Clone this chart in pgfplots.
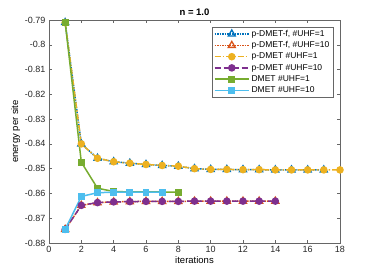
\documentclass[border=0pt]{standalone}
\usepackage{pgfplots}
\pgfplotsset{compat=1.18}
\usepackage{fontspec}
\setmainfont{Liberation Sans}
\definecolor{mblue}{rgb}{0,0.447,0.741}
\definecolor{morange}{rgb}{0.85,0.325,0.098}
\definecolor{myellow}{rgb}{0.929,0.694,0.125}
\definecolor{mpurple}{rgb}{0.494,0.184,0.556}
\definecolor{mgreen}{rgb}{0.466,0.674,0.188}
\definecolor{mcyan}{rgb}{0.301,0.745,0.933}
\begin{document}
\begin{tikzpicture}
\path[use as bounding box] (-49pt,-31pt) rectangle (327pt,243pt);
\begin{axis}[
  at={(0pt,0pt)}, anchor=south west,
  scale only axis, width=291pt, height=223pt,
  xmin=0, xmax=18, ymin=-0.88, ymax=-0.79,
  xtick={0,2,...,18},
  ytick={-0.88,-0.87,-0.86,-0.85,-0.84,-0.83,-0.82,-0.81,-0.8,-0.79},
  /pgf/number format/assume math mode=true,
  yticklabel style={/pgf/number format/fixed,/pgf/number format/precision=2},
  tick label style={font=\fontsize{9}{11}\selectfont, color=black!85},
  tick align=inside, major tick length=3pt,
  axis line style={black!60, line width=0.5pt},
  every tick/.style={black!60},
  xlabel={iterations}, ylabel={energy per site},
  label style={font=\fontsize{9.5}{11}\selectfont},
  xlabel style={yshift=3pt},
  ylabel style={yshift=-2pt},
  title={\textbf{n = 1.0}},
  title style={font=\fontsize{9.5}{11}\selectfont, yshift=-5pt},
  legend cell align=left,
  legend style={at={(0.976,0.969)}, anchor=north east, font=\fontsize{8.5}{10}\selectfont,
    draw=black!60, line width=0.4pt, inner sep=1.5pt, row sep=0.8pt,
    nodes={inner ysep=1.5pt}},
  legend image code/.code={\draw[mark repeat=2,mark phase=2] plot coordinates {(0cm,0cm) (0.6cm,0cm) (1.2cm,0cm)};},
]
\addplot[mblue, densely dotted, line width=1.5pt, mark=triangle, mark size=4pt, mark options={solid, fill=none, line width=1.3pt}] coordinates {
(1,-0.791) (2,-0.840) (3,-0.8458) (4,-0.8472) (5,-0.8478) (6,-0.8483) (7,-0.8487) (8,-0.8490) (9,-0.8500) (10,-0.8503) (11,-0.8503) (12,-0.8504) (13,-0.8504) (14,-0.8505) (15,-0.8505) (16,-0.8505) (17,-0.8505)};
\addlegendentry{p-DMET-f, \#UHF=1}
\addplot[morange, densely dotted, line width=1.5pt, mark=triangle, mark size=4pt, mark options={solid, fill=none, line width=1.3pt}] coordinates {
(1,-0.8745) (2,-0.8648) (3,-0.8637) (4,-0.8634) (5,-0.8633) (6,-0.8632) (7,-0.8632) (8,-0.8632) (9,-0.8631) (10,-0.8631) (11,-0.8631) (12,-0.8631) (13,-0.8631) (14,-0.8631)};
\addlegendentry{p-DMET-f, \#UHF=10}
\addplot[myellow, dash pattern=on 6pt off 2pt on 1.5pt off 2pt, line width=1.5pt, mark=*, mark size=3pt, mark options={solid}] coordinates {
(1,-0.791) (2,-0.840) (3,-0.8458) (4,-0.8472) (5,-0.8478) (6,-0.8483) (7,-0.8487) (8,-0.8490) (9,-0.8500) (10,-0.8503) (11,-0.8503) (12,-0.8504) (13,-0.8504) (14,-0.8505) (15,-0.8505) (16,-0.8505) (17,-0.8505) (18,-0.8505)};
\addlegendentry{p-DMET \#UHF=1}
\addplot[mpurple, dash pattern=on 6pt off 3pt, line width=1.5pt, mark=*, mark size=3pt, mark options={solid}] coordinates {
(1,-0.8745) (2,-0.8648) (3,-0.8637) (4,-0.8634) (5,-0.8633) (6,-0.8632) (7,-0.8632) (8,-0.8632) (9,-0.8631) (10,-0.8631) (11,-0.8631) (12,-0.8631) (13,-0.8631) (14,-0.8631)};
\addlegendentry{p-DMET \#UHF=10}
\addplot[mgreen, solid, line width=1.5pt, mark=square*, mark size=2.7pt] coordinates {
(1,-0.791) (2,-0.8474) (3,-0.8579) (4,-0.8592) (5,-0.8594) (6,-0.8594) (7,-0.8594) (8,-0.8595)};
\addlegendentry{DMET \#UHF=1}
\addplot[mcyan, solid, line width=1.5pt, mark=square*, mark size=2.7pt] coordinates {
(1,-0.8745) (2,-0.8612) (3,-0.8597) (4,-0.8595) (5,-0.8595) (6,-0.8595) (7,-0.8595)};
\addlegendentry{DMET \#UHF=10}
\end{axis}
\end{tikzpicture}
\end{document}
